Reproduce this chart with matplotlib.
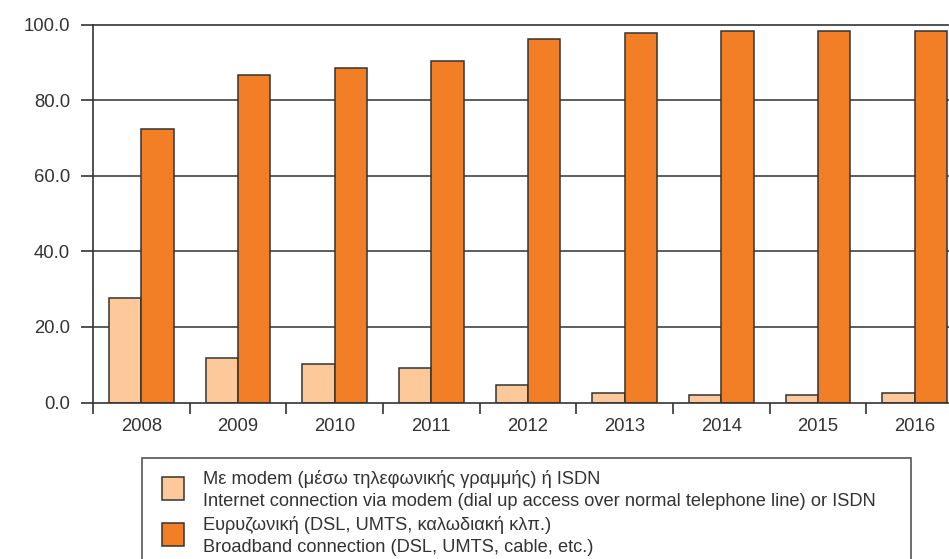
import matplotlib
matplotlib.use("Agg")
import matplotlib.pyplot as plt
from matplotlib import font_manager
from matplotlib.patches import Rectangle
import numpy as np

years = ["2008", "2009", "2010", "2011", "2012", "2013", "2014", "2015", "2016"]
modem = [27.6, 11.7, 10.1, 9.2, 4.7, 2.4, 1.9, 2.1, 2.4]
broadband = [72.4, 86.7, 88.6, 90.3, 96.1, 97.7, 98.4, 98.2, 98.2]
yticks = [0, 20, 40, 60, 80, 100]
legend_lines = [
    "Με modem (μέσω τηλεφωνικής γραμμής) ή ISDN",
    "Internet connection via modem (dial up access over normal telephone line) or ISDN",
    "Ευρυζωνική (DSL, UMTS, καλωδιακή κλπ.)",
    "Broadband connection (DSL, UMTS, cable, etc.)",
]

LIGHT = "#FDC99B"
ORANGE = "#F27F25"
EDGE = "#333333"
TXT = "#333333"

W, H = 949, 559
fig = plt.figure(figsize=(W / 100, H / 100), dpi=100)
plt.rcParams["font.family"] = ["Liberation Sans", "DejaVu Sans"]

ax_left, ax_right, ax_top, ax_bottom = 93, 963, 24.5, 402.5
ax = fig.add_axes([ax_left / W, (H - ax_bottom) / H, (ax_right - ax_left) / W, (ax_bottom - ax_top) / H])

x = np.arange(len(years))
bw = 0.336
ax.bar(x - bw / 2, modem, bw, color=LIGHT, edgecolor=EDGE, linewidth=1.1, zorder=3)
ax.bar(x + bw / 2, broadband, bw, color=ORANGE, edgecolor=EDGE, linewidth=1.1, zorder=3)

ax.set_xlim(-0.5, len(years) - 0.5)
ax.set_ylim(0, 100)
ax.set_yticks(yticks)
ax.set_yticklabels([f"{v:.1f}" for v in yticks], fontsize=13.3, color=TXT)
ax.set_xticks(x)
ax.set_xticklabels(years, fontsize=13.3, color=TXT)
ax.set_xticks(np.arange(len(years) + 1) - 0.5, minor=True)
ax.tick_params(axis="x", which="major", length=0, pad=11)
ax.tick_params(axis="x", which="minor", length=8, width=1.2, color=EDGE, direction="out")
ax.tick_params(axis="y", which="major", length=8.5, width=1.2, color=EDGE, pad=8, direction="out")

for v in yticks[1:-1]:
    ax.axhline(v, color="#505050", linewidth=1.3, zorder=1)
ax.spines["right"].set_visible(False)
for s in ["left", "bottom", "top"]:
    ax.spines[s].set_color(EDGE)
    ax.spines[s].set_linewidth(1.2)
ax.spines["bottom"].set_zorder(4)

# legend (manual, in pixel coords)
def fx(px):
    return px / W
def fy(py_top):
    return (H - py_top) / H

fig.patches.append(Rectangle((fx(141.7), fy(570)), fx(911) - fx(141.7), fy(457.7) - fy(570),
                             transform=fig.transFigure, fill=False, edgecolor="#555555",
                             linewidth=1.2, clip_on=False))
for top, col in [(476.7, LIGHT), (522.7, ORANGE)]:
    fig.patches.append(Rectangle((fx(161.7), fy(top + 22.8)), fx(184.3) - fx(161.7), fy(top) - fy(top + 22.8),
                                 transform=fig.transFigure, facecolor=col, edgecolor=EDGE,
                                 linewidth=1.1))

fams = {f.name for f in font_manager.fontManager.ttflist}
lfam = ["Liberation Sans Narrow", "DejaVu Sans"] if "Liberation Sans Narrow" in fams else ["Liberation Sans", "DejaVu Sans"]

# choose a size so that the longest line spans ~676 px
renderer = fig.canvas.get_renderer()
t = fig.text(0, 0, legend_lines[1], fontsize=12, family=lfam)
wpx = t.get_window_extent(renderer).width
t.remove()
lsize = 12 * 676 / wpx

for yc, s in zip([479, 502, 525, 548], legend_lines):
    fig.text(fx(203), fy(yc), s, fontsize=lsize, family=lfam, color=TXT, va="center", ha="left")

fig.savefig("out.png", dpi=100)
